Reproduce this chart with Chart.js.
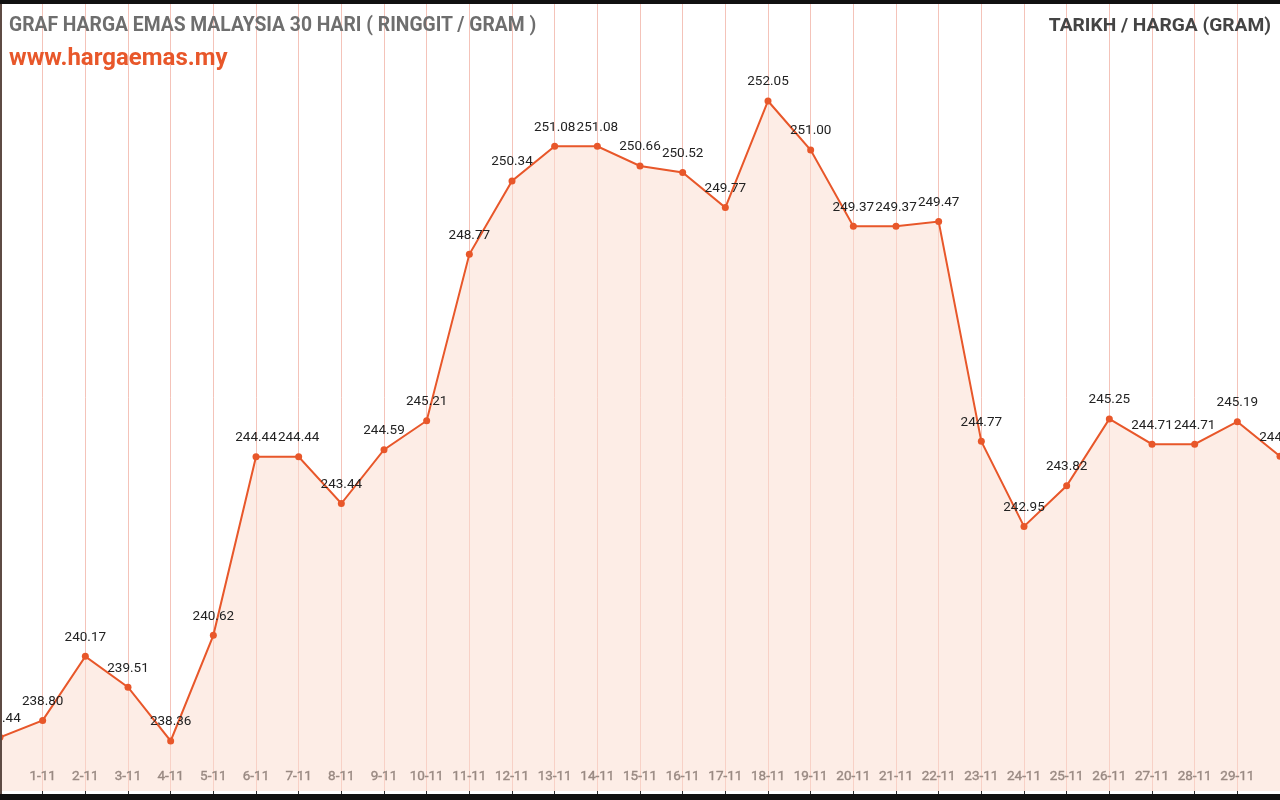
<!DOCTYPE html>
<html>
<head>
<meta charset="utf-8">
<title>Graf Harga Emas Malaysia 30 Hari</title>
<script src="https://cdn.jsdelivr.net/npm/chart.js@4.4.1/dist/chart.umd.min.js"></script>
<style>
    html, body { margin: 0; padding: 0; background: #111; overflow: hidden; }
    #wrap { position: absolute; left: 0; top: 4px; width: 1280px; height: 790px; background: #fff; }
    #edge { position: absolute; left: 0; top: 0; width: 2px; height: 100%; background: #5e4b44; z-index: 3; }
    .head { position: absolute; font-family: Roboto, "Noto Sans", sans-serif; font-weight: bold; white-space: nowrap; z-index: 2; }
    #title { left: 9px; top: 9px; font-size: 19.3px; color: #6e6e6e; }
    #site { left: 9px; top: 39px; font-size: 24px; color: #e8572a; }
    #side { right: 9px; top: 9px; font-size: 19.2px; color: #444; }
</style>
</head>
<body>
<div id="wrap">
    <div id="edge"></div>
    <div class="head" id="title">GRAF HARGA EMAS MALAYSIA 30 HARI ( RINGGIT / GRAM )</div>
    <div class="head" id="site">www.hargaemas.my</div>
    <div class="head" id="side">TARIKH / HARGA (GRAM)</div>
    <canvas id="output"></canvas>
</div>
<script>
const dates = ["31-10", "1-11", "2-11", "3-11", "4-11", "5-11", "6-11", "7-11", "8-11", "9-11",
    "10-11", "11-11", "12-11", "13-11", "14-11", "15-11", "16-11", "17-11", "18-11", "19-11",
    "20-11", "21-11", "22-11", "23-11", "24-11", "25-11", "26-11", "27-11", "28-11", "29-11", "30-11"];
const prices = [238.44, 238.80, 240.17, 239.51, 238.36, 240.62, 244.44, 244.44, 243.44, 244.59,
    245.21, 248.77, 250.34, 251.08, 251.08, 250.66, 250.52, 249.77, 252.05, 251.00,
    249.37, 249.37, 249.47, 244.77, 242.95, 243.82, 245.25, 244.71, 244.71, 245.19, 244.45];

const orange = "#e8572a";

// price text above every point
const valueLabels = {
    id: "valueLabels",
    afterDatasetsDraw(chart) {
        const ctx = chart.ctx;
        const meta = chart.getDatasetMeta(0);
        ctx.save();
        ctx.font = "13.5px Roboto, 'Noto Sans', sans-serif";
        ctx.fillStyle = "#222";
        ctx.textAlign = "center";
        ctx.textBaseline = "middle";
        meta.data.forEach((pt, i) => {
            ctx.fillText(prices[i].toFixed(2), pt.x, pt.y - 19);
        });
        ctx.restore();
    }
};

const chart = new Chart(document.getElementById("output"), {
    type: "line",
    data: {
        labels: dates,
        datasets: [{
            data: prices,
            borderColor: orange,
            borderWidth: 2,
            backgroundColor: "rgba(252, 222, 210, 0.55)",
            fill: "start",
            tension: 0,
            pointRadius: 3.5,
            pointBackgroundColor: orange,
            pointBorderColor: orange,
            pointBorderWidth: 0
        }]
    },
    options: {
        responsive: true,
        maintainAspectRatio: false,
        animation: false,
        layout: { padding: 0, autoPadding: false },
        plugins: {
            legend: { display: false },
            tooltip: { enabled: false }
        },
        scales: {
            x: {
                offset: false,
                z: 1,
                border: { display: false },
                grid: {
                    color: "rgba(240, 170, 155, 0.7)",
                    lineWidth: 1,
                    drawTicks: true,
                    tickLength: 3,
                    tickColor: "#333"
                },
                ticks: {
                    autoSkip: false,
                    maxRotation: 0,
                    mirror: true,
                    padding: 6,
                    color: "#222",
                    textStrokeColor: "#222",
                    textStrokeWidth: 0.4,
                    font: { family: "Roboto", size: 13.5 },
                    callback: function (value, index) {
                        if (index === 0 || index === dates.length - 1) return "";
                        return dates[index];
                    }
                },
                afterFit: (scale) => {
                    scale.height = 3;
                    scale.paddingLeft = 0;
                    scale.paddingRight = 0;
                }
            },
            y: {
                display: false,
                min: 237.29,
                max: 254.125
            }
        }
    },
    plugins: [valueLabels]
});
</script>
</body>
</html>
